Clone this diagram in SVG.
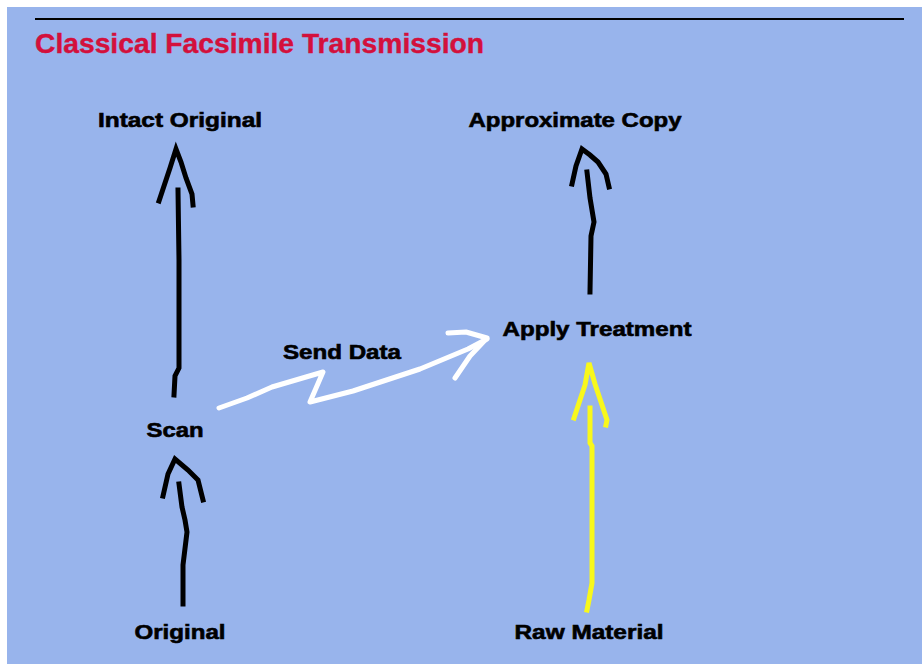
<svg xmlns="http://www.w3.org/2000/svg" width="922" height="664" viewBox="0 0 922 664">
<style>
.lbl{font-family:"Liberation Sans",Arial,sans-serif;font-weight:bold;font-size:20px;fill:#000;stroke:#000;stroke-width:0.6;text-anchor:middle}
.ttl{font-family:"Liberation Sans",Arial,sans-serif;font-weight:bold;font-size:27px;fill:#d3103c;stroke:#d3103c;stroke-width:0.4}
.ink{fill:none;stroke:#000;stroke-width:5;stroke-linecap:square;stroke-linejoin:miter}
.yel{fill:none;stroke:#f8f81c;stroke-width:5;stroke-linecap:square}
.wht{fill:none;stroke:#fff;stroke-width:5;stroke-linecap:round;stroke-linejoin:round}
</style>
<rect x="0" y="0" width="922" height="664" fill="#fff"/>
<rect x="7" y="7" width="915" height="657" fill="#98b4ec"/>
<line x1="35" y1="19" x2="904" y2="19" stroke="#000" stroke-width="2"/>
<text class="ttl" x="35" y="53" textLength="449" lengthAdjust="spacingAndGlyphs">Classical Facsimile Transmission</text>

<g id="intact-original"><text class="lbl" x="180" y="127" textLength="164" lengthAdjust="spacingAndGlyphs">Intact Original</text></g>
<g id="approximate-copy"><text class="lbl" x="575" y="127" textLength="213" lengthAdjust="spacingAndGlyphs">Approximate Copy</text></g>
<g id="apply-treatment"><text class="lbl" x="597" y="336" textLength="189" lengthAdjust="spacingAndGlyphs">Apply Treatment</text></g>
<g id="scan"><text class="lbl" x="175" y="437" textLength="57" lengthAdjust="spacingAndGlyphs">Scan</text></g>
<g id="original"><text class="lbl" x="180" y="639" textLength="91" lengthAdjust="spacingAndGlyphs">Original</text></g>
<g id="raw-material"><text class="lbl" x="589" y="639" textLength="149" lengthAdjust="spacingAndGlyphs">Raw Material</text></g>

<g id="connectors">
  <!-- Scan -> Intact Original -->
  <path class="ink" d="M178,190 L179,260 L179,368 L175,376 L174,395"/>
  <path class="ink" d="M159,201 L166,180 L170,168 L176,149 L181,162 L186,178 L192,194 L193,205"/>
  <!-- Apply Treatment -> Approximate Copy -->
  <path class="ink" d="M587,172 L590,198 L594,222 L591,236 L590,292"/>
  <path class="ink" d="M572,184 L576,166 L582,149 L590,155 L598,162 L606,174 L609,187"/>
  <!-- Original -> Scan -->
  <path class="ink" d="M183,604 L183,565 L187,532 L185,520 L182,507 L179,484"/>
  <path class="ink" d="M163,496 L168,474 L175,459 L188,470 L198,480 L203,500"/>
  <!-- Raw Material -> Apply Treatment (yellow) -->
  <path class="yel" d="M587,610 L589,600 L592,583 L592,446 L590,443 L590,408"/>
  <path class="yel" d="M574,418 L580,400 L585,385 L589,363 L595,384 L601,402 L607,420 L606,425"/>
  <!-- Send Data (white zigzag) -->
  <path class="wht" d="M219,408 L247,398 L272,387 L323,372 L310,402 L353,391 L420,369 L468,349 L487,339"/>
  <path class="wht" d="M448,333 L466,332 L487,338 L470,356 L455,378"/>
  <text class="lbl" x="342" y="359" textLength="118" lengthAdjust="spacingAndGlyphs">Send Data</text>
</g>
</svg>
